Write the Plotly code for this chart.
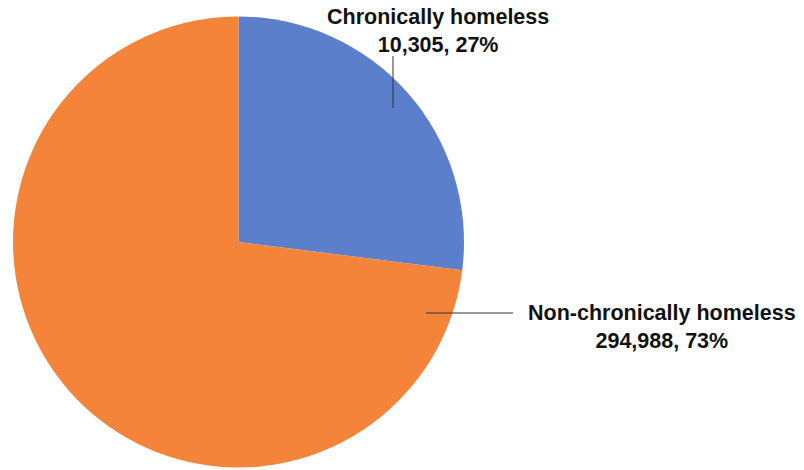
import plotly.graph_objects as go

categories = ["Chronically homeless", "Non-chronically homeless"]
counts = [10305, 294988]
percents = [27, 73]
colors = ["#5B7FCB", "#F3843A"]

W, H = 804, 470

fig = go.Figure(go.Pie(
    labels=categories,
    values=percents,
    sort=False,
    direction="clockwise",
    rotation=0,
    textinfo="none",
    hoverinfo="label+value",
    marker=dict(colors=colors, line=dict(width=0)),
    domain=dict(x=[13 / W, 464 / W], y=[1 - 468 / H, 1 - 16 / H]),
    showlegend=False,
))

label_pos = [(437.5, 31), (661.5, 327)]
for cat, cnt, pct, (px, py) in zip(categories, counts, percents, label_pos):
    fig.add_annotation(
        text=f"{cat}<br>{cnt:,}, {pct}%",
        x=px / W, y=1 - py / H, xref="paper", yref="paper",
        xanchor="center", yanchor="middle", align="center",
        showarrow=False,
        font=dict(family="Liberation Sans, Arial", size=21.5, color="#111111", weight="bold"),
    )

leaders = [((393, 56), (393, 108)), ((426, 313), (513, 313))]
for (x0, y0), (x1, y1) in leaders:
    fig.add_shape(type="line", xref="paper", yref="paper",
                  x0=x0 / W, y0=1 - y0 / H, x1=x1 / W, y1=1 - y1 / H,
                  line=dict(color="#333333", width=1))

fig.update_layout(
    width=W, height=H,
    margin=dict(l=0, r=0, t=0, b=0),
    paper_bgcolor="white", plot_bgcolor="white",
)

fig.write_html("out.html", config={"displayModeBar": False},
               post_script="document.body.style.margin='0';document.body.style.overflow='hidden';")
